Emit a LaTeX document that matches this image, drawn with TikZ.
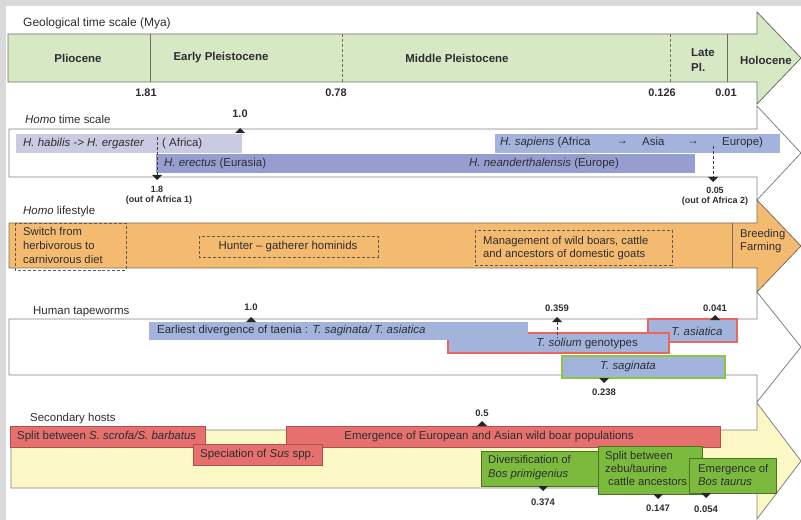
\documentclass[tikz,border=0pt]{standalone}
\usepackage{fontspec}
\setmainfont{Liberation Sans}
\definecolor{tc}{RGB}{45,45,50}
\definecolor{framec}{RGB}{217,217,217}
\definecolor{geoc}{RGB}{214,232,196}
\definecolor{geoline}{RGB}{105,115,100}
\definecolor{arrline}{RGB}{130,130,130}
\definecolor{orc}{RGB}{244,186,112}
\definecolor{orline}{RGB}{120,110,95}
\definecolor{yelc}{RGB}{252,248,198}
\definecolor{habc}{RGB}{202,202,226}
\definecolor{erec}{RGB}{150,158,208}
\definecolor{sapc}{RGB}{162,180,220}
\definecolor{redc}{RGB}{230,112,110}
\definecolor{redline}{RGB}{175,80,78}
\definecolor{redb}{RGB}{238,100,92}
\definecolor{grnb}{RGB}{135,200,60}
\definecolor{grnc}{RGB}{124,186,62}
\definecolor{grnline}{RGB}{75,115,40}
\definecolor{dotc}{RGB}{90,90,90}
\newcommand{\triUp}[2]{\fill[black!85] (#1-5,#2) -- (#1+5,#2) -- (#1,#2-5) -- cycle;}
\newcommand{\triDn}[2]{\fill[black!85] (#1-5,#2) -- (#1+5,#2) -- (#1,#2+5) -- cycle;}
\begin{document}
\begin{tikzpicture}[x=1bp,y=-1bp,
  txt/.style={inner sep=0, text=tc, font=\fontsize{11.5}{13}\selectfont},
  hd/.style={inner sep=0, text=tc, font=\bfseries\fontsize{11.5}{13}\selectfont},
  num/.style={inner sep=0, text=tc, font=\bfseries\fontsize{11}{13}\selectfont},
  sm/.style={inner sep=0, text=tc, font=\bfseries\fontsize{9}{10}\selectfont},
  arr/.style={draw=arrline, line width=0.8bp},
  box/.style={inner sep=0, outer sep=0, anchor=north west},
  dotbox/.style={draw=dotc, densely dashed, line width=0.9bp},
  vdash/.style={draw=black!75, densely dashed, line width=0.8bp}
]
\useasboundingbox (0,0) rectangle (801,520);
\fill[framec] (0,0) rectangle (801,520);
\fill[white] (6,6) rectangle (801,520);

% ---------- Row 1: geological time scale ----------
\node[txt, anchor=mid west, font=\fontsize{12}{13}\selectfont] (geoT) at (23,24) {Geological time scale (Mya)};
\path[fill=geoc, draw=geoline, line width=0.8bp] (8,34) -- (757,34) -- (757,12) -- (801,58) -- (757,104) -- (757,82) -- (8,82) -- cycle;
\draw[geoline, line width=0.8bp] (150,34) -- (150,82);
\draw[geoline, line width=0.8bp, densely dashed] (342,34) -- (342,82);
\draw[geoline, line width=0.8bp, densely dashed] (670,34) -- (670,82);
\draw[geoline, line width=0.8bp] (727,34) -- (727,82);
\node[hd] (plio) at (78,58) {Pliocene};
\node[hd] (early) at (221,58) {Early Pleistocene};
\node[hd] (middle) at (457,58) {Middle Pleistocene};
\node[hd, align=left, font=\bfseries\fontsize{11.5}{15}\selectfont] (late) at (703,60) {Late\\Pl.};
\node[hd] (holo) at (766,60) {Holocene};
\node[num] (n181) at (146,93) {1.81};
\node[num] (n078) at (336,93) {0.78};
\node[num] (n0126) at (662,93) {0.126};
\node[num] (n001) at (726,93) {0.01};

% ---------- Row 2: Homo time scale ----------
\node[txt, anchor=mid west] (homoT) at (25,121) {\textit{Homo} time scale};
\path[fill=white, arr] (9,129) -- (757,129) -- (757,106) -- (801,153) -- (757,200) -- (757,177) -- (9,177) -- cycle;
\node[box, fill=habc, minimum width=226bp, minimum height=19bp] (hab) at (16,134) {};
\node[box, fill=sapc, minimum width=285bp, minimum height=19bp] (sap) at (495,134) {};
\node[box, fill=erec, minimum width=539bp, minimum height=19bp] (ere) at (156,154) {};
\node[txt, anchor=mid west] (habT) at (23,144) {\textit{H. habilis -> H. ergaster}};
\node[txt, anchor=mid west] (afrT) at (162,144) {( Africa)};
\node[txt, anchor=mid west] (ereT) at (164,164) {\textit{H. erectus} (Eurasia)};
\node[txt] (neaT) at (544,164) {\textit{H. neanderthalensis} (Europe)};
\node[txt, anchor=mid west] (sapT) at (500,143) {\textit{H. sapiens} (Africa};
\node[txt, font=\bfseries\fontsize{11.5}{13}\selectfont] (ar1) at (622,143) {→};
\node[txt, anchor=mid west] (asiaT) at (642,143) {Asia};
\node[txt, font=\bfseries\fontsize{11.5}{13}\selectfont] (ar2) at (693,143) {→};
\node[txt, anchor=mid west] (euT) at (722,143) {Europe)};
\node[num] (n10a) at (240,114) {1.0};
\triUp{240}{133}
\coordinate (oa1top) at (157,137);
\coordinate (oa1bot) at (157,175);
\draw[vdash] (oa1top) -- (oa1bot);
\triDn{157}{175}
\node[sm] (n18) at (157,189) {1.8};
\node[sm] (oa1) at (159,200) {(out of Africa 1)};
\coordinate (oa2top) at (713,146);
\coordinate (oa2bot) at (713,177);
\draw[vdash] (oa2top) -- (oa2bot);
\triDn{713}{177}
\node[sm] (n005) at (715,190) {0.05};
\node[sm] (oa2) at (715,201) {(out of Africa 2)};

% ---------- Row 3: Homo lifestyle ----------
\node[txt, anchor=mid west] (lifeT) at (23,212) {\textit{Homo} lifestyle};
\path[fill=orc, draw=orline, line width=0.8bp] (9,223) -- (757,223) -- (757,200) -- (801,246) -- (757,292) -- (757,268) -- (9,268) -- cycle;
\draw[dotbox] (15,223) rectangle (126,270);
\draw[dotbox] (199,236) rectangle (378,257);
\draw[dotbox] (475,230) rectangle (672,265);
\draw[orline, line width=0.8bp] (732,223) -- (732,268);
\node[txt, anchor=north west, align=left, font=\fontsize{11.3}{14}\selectfont] (switch) at (23,227) {Switch from\\herbivorous to\\carnivorous diet};
\node[txt] (hunter) at (288,247) {Hunter -- gatherer hominids};
\node[txt, anchor=north west, align=left, font=\fontsize{11.3}{13.5}\selectfont] (manage) at (483,236) {Management of wild boars, cattle\\and ancestors of domestic goats};
\node[txt, anchor=north west, align=left, font=\fontsize{11.3}{13.5}\selectfont] (breed) at (740,229) {Breeding\\Farming};

% ---------- Row 4: Human tapeworms ----------
\node[txt, anchor=mid west] (tapeT) at (33,312) {Human tapeworms};
\path[fill=white, arr] (9,319) -- (757,319) -- (757,292) -- (801,347) -- (757,402) -- (757,375) -- (9,375) -- cycle;
\node[box, fill=sapc, draw=redb, line width=1.8bp, minimum width=89bp, minimum height=23bp] (asi) at (648,319) {};
\node[box, fill=sapc, draw=redb, line width=1.8bp, minimum width=221bp, minimum height=20bp] (sol) at (448,333) {};
\node[box, fill=sapc, minimum width=379bp, minimum height=18bp] (earl) at (149,322) {};
\node[box, fill=sapc, draw=grnb, line width=1.8bp, minimum width=163bp, minimum height=22bp] (sag) at (562,356) {};
\node[txt, anchor=mid west] (earlT) at (157,331) {Earliest divergence of taenia : \textit{T. saginata/ T. asiatica}};
\node[txt] (asiT) at (697,331) {\textit{T. asiatica}};
\node[txt] (solT) at (587,344) {\textit{T. solium} genotypes};
\node[txt] (sagT) at (628,367) {\textit{T. saginata}};
\node[num, font=\bfseries\fontsize{9.5}{10}\selectfont] (n10b) at (251,307) {1.0};
\triUp{251}{322}
\node[num, font=\bfseries\fontsize{9.5}{10}\selectfont] (n0359) at (557,308) {0.359};
\triUp{557}{322}
\coordinate (d359a) at (557,322);
\coordinate (d359b) at (557,338);
\draw[vdash] (d359a) -- (d359b);
\node[num, font=\bfseries\fontsize{9.5}{10}\selectfont] (n0041) at (715,308) {0.041};
\triUp{715}{320}
\triDn{604}{378}
\node[num, font=\bfseries\fontsize{9.5}{10}\selectfont] (n0238) at (604,392) {0.238};

% ---------- Row 5: Secondary hosts ----------
\node[txt, anchor=mid west] (secT) at (30,419) {Secondary hosts};
\path[fill=yelc, arr] (11,430) -- (757,430) -- (757,403) -- (801,461) -- (757,519) -- (757,488) -- (11,488) -- cycle;
\node[box, fill=redc, draw=redline, line width=0.7bp, minimum width=195bp, minimum height=21bp] (splitS) at (10,426) {};
\node[box, fill=redc, draw=redline, line width=0.7bp, minimum width=434bp, minimum height=21bp] (emerW) at (286,426) {};
\node[box, fill=redc, draw=redline, line width=0.7bp, minimum width=129bp, minimum height=21bp] (spec) at (193,444) {};
\node[txt, anchor=mid west] (splitST) at (17,437) {Split between \textit{S. scrofa/S. barbatus}};
\node[txt] (emerWT) at (489,437) {Emergence of European and Asian wild boar populations};
\node[txt, anchor=mid west] (specT) at (200,455) {Speciation of \textit{Sus} spp.};
\node[num, font=\bfseries\fontsize{9.5}{10}\selectfont] (n05) at (482,413) {0.5};
\triUp{482}{426}
\node[box, fill=grnc, draw=grnline, line width=0.7bp, minimum width=119bp, minimum height=35bp] (div) at (481,451) {};
\node[box, fill=grnc, draw=grnline, line width=0.7bp, minimum width=104bp, minimum height=48bp] (zebu) at (598,446) {};
\node[box, fill=grnc, draw=grnline, line width=0.7bp, minimum width=87bp, minimum height=35bp] (bos) at (689,458) {};
\node[txt, anchor=north west, align=left, font=\fontsize{11.3}{14}\selectfont] (divT) at (488,455) {Diversification of\\\textit{Bos primigenius}};
\node[txt, anchor=north west, align=left, font=\fontsize{11.3}{13.3}\selectfont] (zebuT) at (605,451) {Split between\\zebu/taurine\\\hspace*{3bp}cattle ancestors};
\node[txt, anchor=north west, align=left, font=\fontsize{11.3}{13.5}\selectfont] (bosT) at (698,464) {Emergence of\\\textit{Bos taurus}};
\triDn{543}{486}
\node[num, font=\bfseries\fontsize{9.5}{10}\selectfont] (n0374) at (543,502) {0.374};
\triDn{658}{494}
\node[num, font=\bfseries\fontsize{9.5}{10}\selectfont] (n0147) at (658,508) {0.147};
\triDn{706}{493}
\node[num, font=\bfseries\fontsize{9.5}{10}\selectfont] (n0054) at (706,509) {0.054};
\end{tikzpicture}
\end{document}
